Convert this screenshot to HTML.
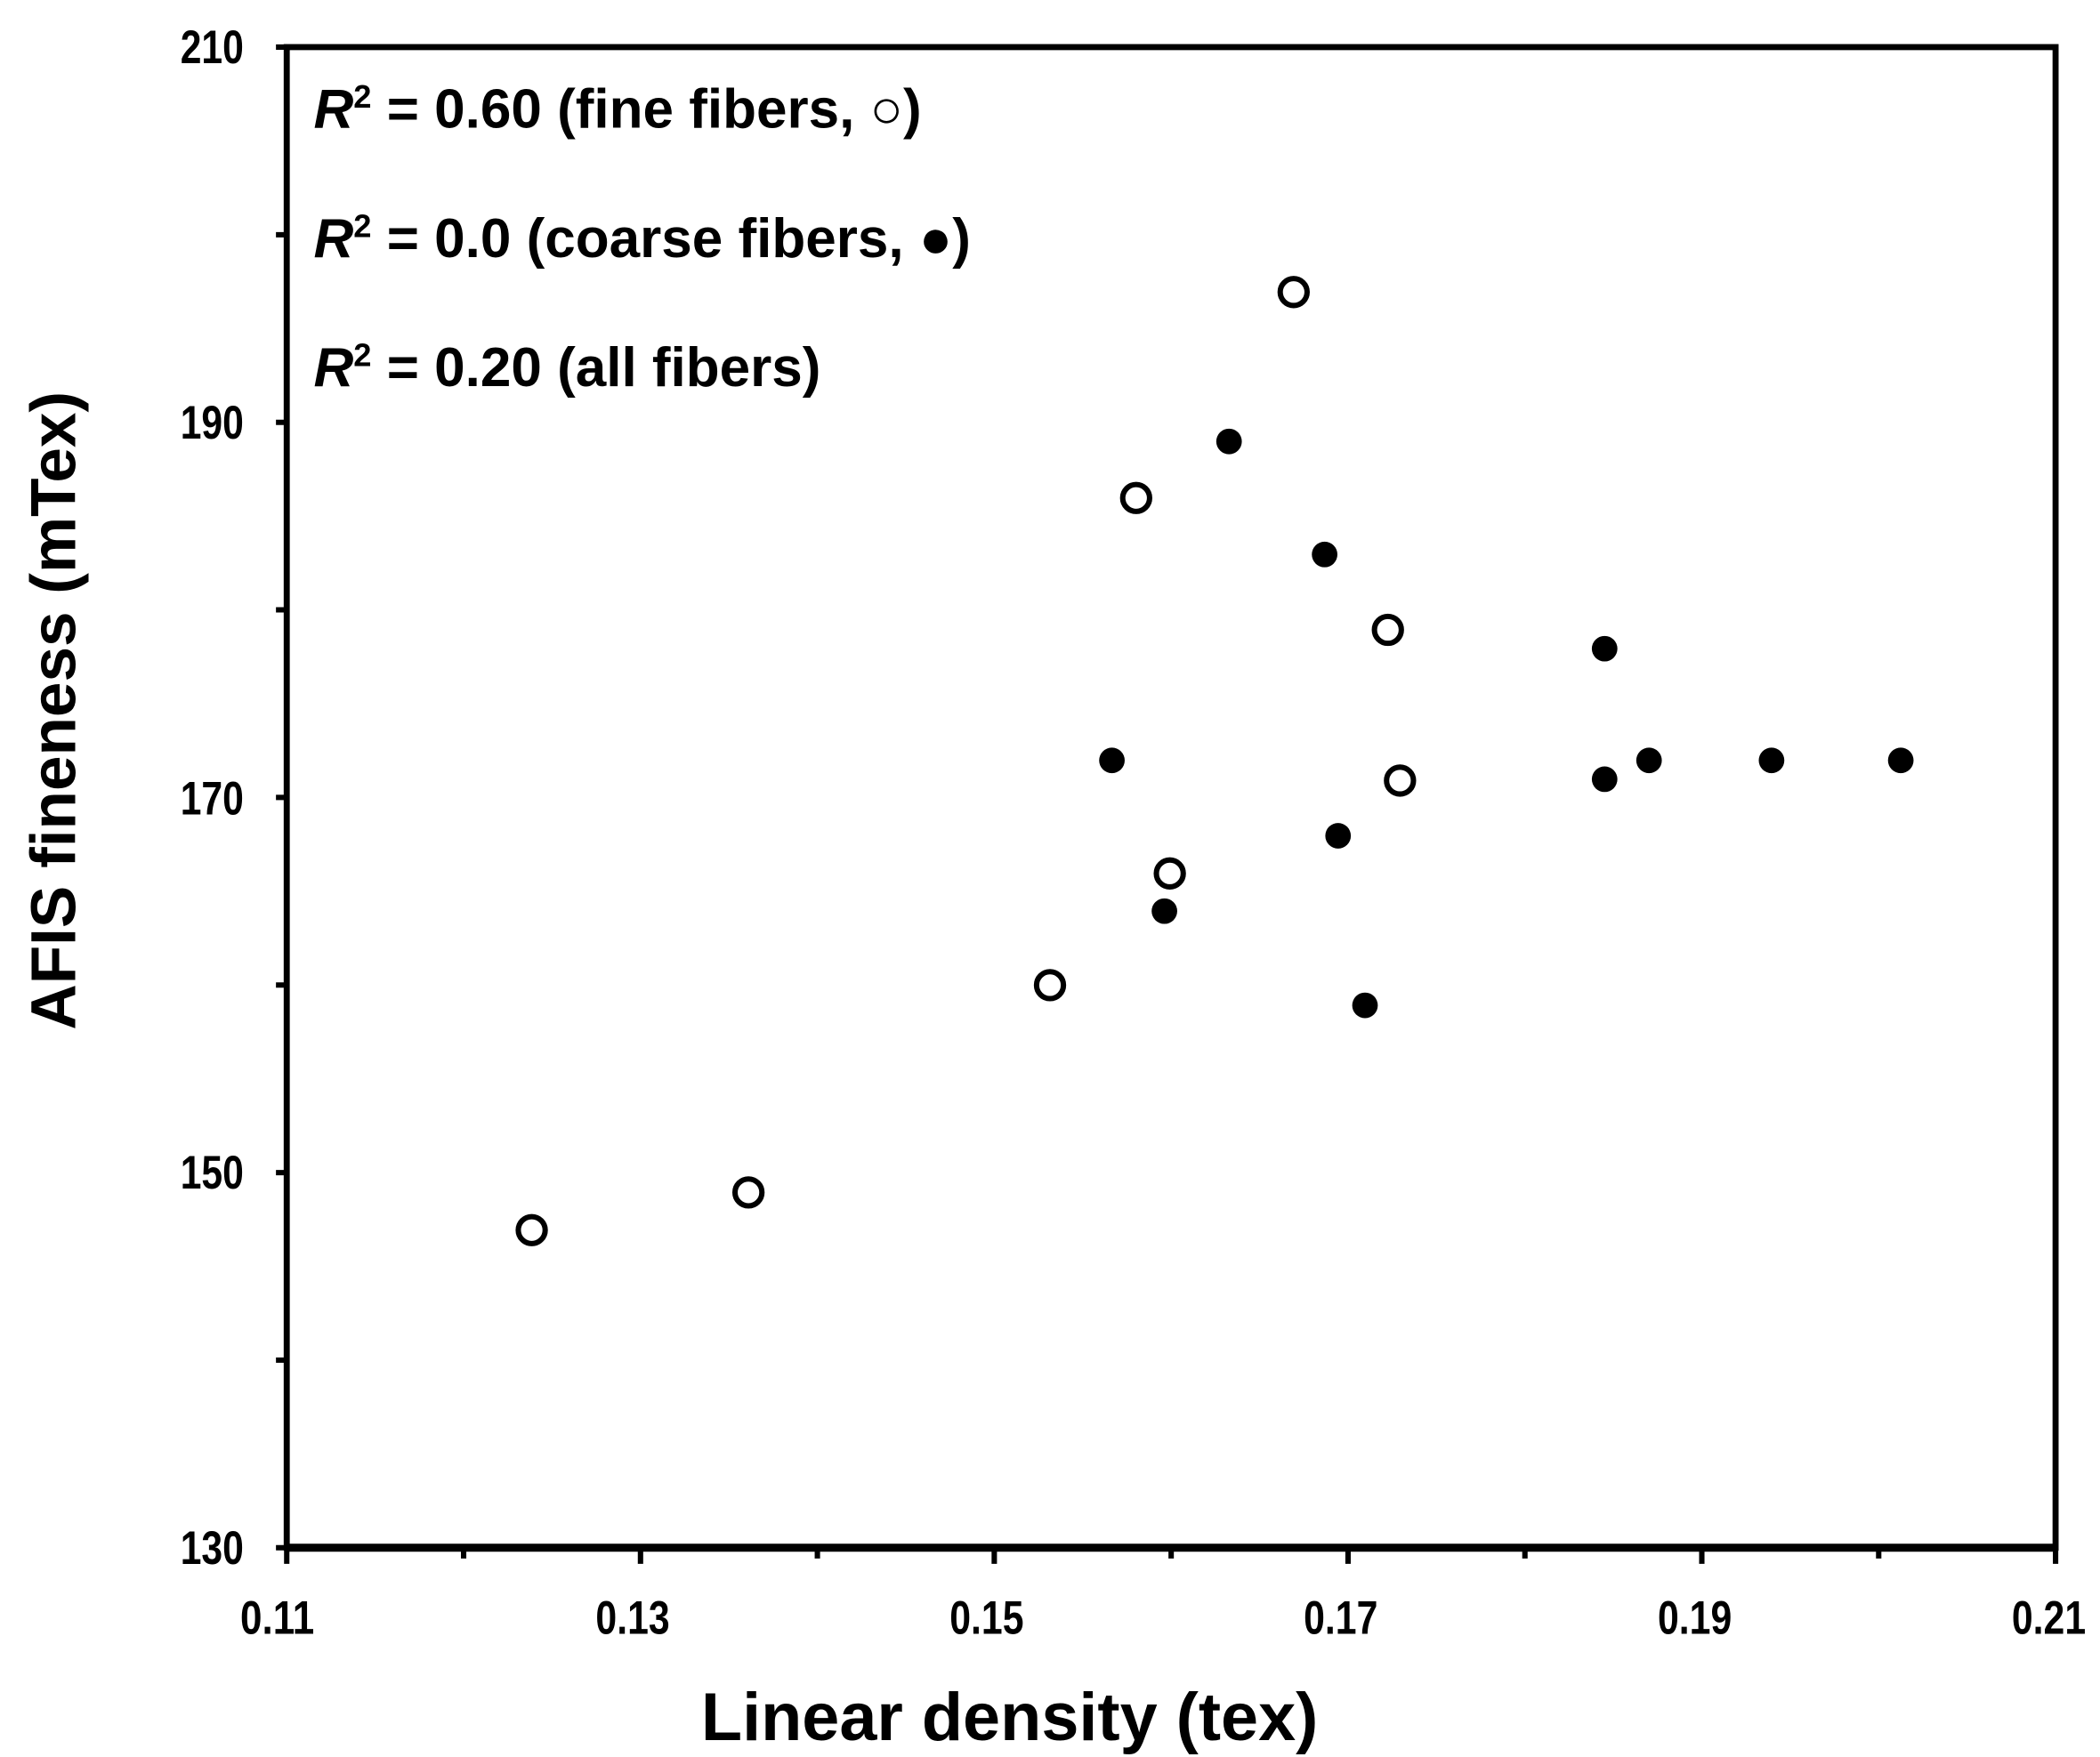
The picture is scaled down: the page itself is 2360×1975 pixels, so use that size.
<!DOCTYPE html>
<html><head><style>html,body{margin:0;padding:0;background:#fff}svg{display:block}</style></head>
<body>
<svg width="2360" height="1975" viewBox="0 0 1560 1305.5" xmlns="http://www.w3.org/2000/svg" font-family="Liberation Sans, Arial, sans-serif" font-weight="bold">
<rect width="1560" height="1305.5" fill="#fff"/>
<g stroke="#000" stroke-width="4" fill="none">
<rect x="213" y="35" width="1314" height="1115" stroke-width="4.5"/>
<path d="M213 1150h1314" stroke-width="6"/>
<path d="M205 35h8M205 174.4h8M205 313.8h8M205 453.1h8M205 592.5h8M205 731.9h8M205 871.3h8M205 1010.6h8M205 1150h8"/>
<path d="M213 1150v12M344.4 1150v8M475.8 1150v12M607.2 1150v8M738.6 1150v12M870 1150v8M1001.4 1150v12M1132.8 1150v8M1264.2 1150v12M1395.6 1150v8M1527 1150v12"/>
</g>
<g font-size="35" text-anchor="end" lengthAdjust="spacingAndGlyphs">
<text x="181" y="47" textLength="47" lengthAdjust="spacingAndGlyphs">210</text>
<text x="181" y="326" textLength="47" lengthAdjust="spacingAndGlyphs">190</text>
<text x="181" y="605" textLength="47" lengthAdjust="spacingAndGlyphs">170</text>
<text x="181" y="883" textLength="47" lengthAdjust="spacingAndGlyphs">150</text>
<text x="181" y="1162" textLength="47" lengthAdjust="spacingAndGlyphs">130</text>
</g>
<g font-size="35" text-anchor="middle">
<text x="206" y="1214" textLength="55" lengthAdjust="spacingAndGlyphs">0.11</text>
<text x="470" y="1214" textLength="55" lengthAdjust="spacingAndGlyphs">0.13</text>
<text x="733" y="1214" textLength="55" lengthAdjust="spacingAndGlyphs">0.15</text>
<text x="996" y="1214" textLength="55" lengthAdjust="spacingAndGlyphs">0.17</text>
<text x="1259" y="1214" textLength="55" lengthAdjust="spacingAndGlyphs">0.19</text>
<text x="1522" y="1214" textLength="55" lengthAdjust="spacingAndGlyphs">0.21</text>
</g>
<text x="750" y="1293" font-size="50" text-anchor="middle">Linear density (tex)</text>
<text transform="translate(56,528) rotate(-90)" font-size="47" text-anchor="middle">AFIS fineness (mTex)</text>
<g font-size="41">
<text x="233" y="95"><tspan font-style="italic">R</tspan><tspan font-size="24" dy="-15">2</tspan><tspan dy="15"> = 0.60 (fine fibers, ○)</tspan></text>
<text x="233" y="191"><tspan font-style="italic">R</tspan><tspan font-size="24" dy="-15">2</tspan><tspan dy="15"> = 0.0 (coarse fibers, ●)</tspan></text>
<text x="233" y="287"><tspan font-style="italic">R</tspan><tspan font-size="24" dy="-15">2</tspan><tspan dy="15"> = 0.20 (all fibers)</tspan></text>
</g>
<g fill="#fff" stroke="#000" stroke-width="4">
<circle cx="395" cy="914" r="10"/><circle cx="556" cy="886" r="10"/><circle cx="780" cy="732" r="10"/>
<circle cx="844" cy="370" r="10"/><circle cx="869" cy="649" r="10"/><circle cx="961" cy="217" r="10"/>
<circle cx="1031" cy="468" r="10"/><circle cx="1040" cy="580" r="10"/>
</g>
<g fill="#000">
<circle cx="913" cy="328" r="9.5"/><circle cx="984" cy="412" r="9.5"/><circle cx="826" cy="565" r="9.5"/>
<circle cx="865" cy="677" r="9.5"/><circle cx="994" cy="621" r="9.5"/><circle cx="1014" cy="747" r="9.5"/>
<circle cx="1192" cy="482" r="9.5"/><circle cx="1192" cy="579" r="9.5"/><circle cx="1225" cy="565" r="9.5"/>
<circle cx="1316" cy="565" r="9.5"/><circle cx="1412" cy="565" r="9.5"/>
</g>
</svg>
</body></html>
